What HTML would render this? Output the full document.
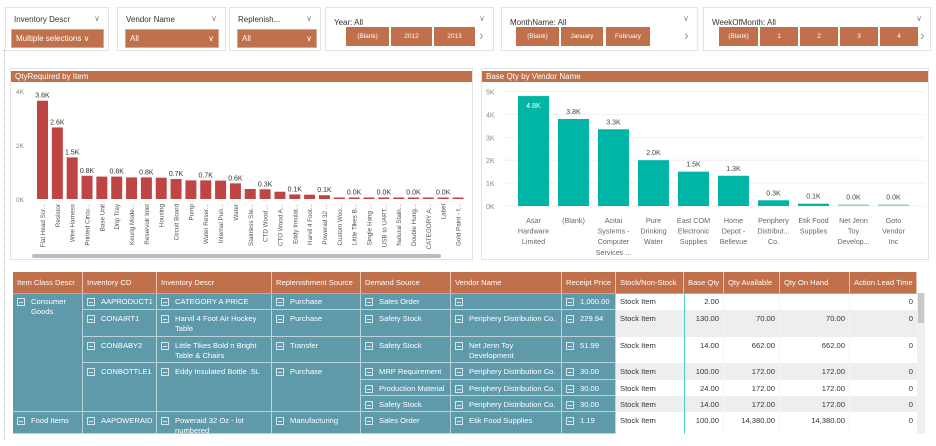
<!DOCTYPE html>
<html><head><meta charset="utf-8">
<style>
body{margin:0;width:936px;height:446px;background:#fff;position:relative;overflow:hidden;font-family:"Liberation Sans",sans-serif;}
.abs{position:absolute;box-sizing:border-box;}
.slicer{border:1px solid #e3e3e3;background:#fff;}
.sl-title{font-size:8px;color:#333;position:absolute;left:8px;top:7px;}
.sl-chev{position:absolute;right:8px;top:6px;font-size:8px;color:#888;}
.dd{background:#c0704a;color:#fff;font-size:8px;position:absolute;padding:4px 4px;box-sizing:border-box;border:1px solid #d9a58a;}
.btn{background:#c0704a;color:#fff;font-size:6.5px;position:absolute;text-align:center;line-height:19px;height:19px;top:27px;}
.arrow{position:absolute;font-size:14px;color:#999;top:27px;}
.cell{position:absolute;box-sizing:border-box;font-size:7.6px;padding:4px 3px 0 4px;line-height:10px;overflow:hidden;}
.teal{background:#5f9aab;color:#fff;border-right:1px solid #b9d2da;border-bottom:1px solid #b9d2da;}
.hdr{background:#c0704a;color:#fff;border-right:1px solid #e8c3ae;padding-top:6px;white-space:nowrap;}
.ico{display:inline-block;width:6px;height:6px;border:1px solid #d6e7ec;margin-right:6px;position:relative;vertical-align:-1px;}
.ico:after{content:"";position:absolute;left:1px;top:2.5px;width:4px;height:1px;background:#d6e7ec;}
.num{text-align:right;color:#333;padding-right:4px;}
</style></head><body>
<div class="abs" style="left:4px;top:50px;width:0;height:390px;border-left:1px dotted #bbb;"></div>

<!-- slicers -->
<div class="abs slicer" style="left:5px;top:7px;width:104px;height:44px;">
 <div class="sl-title">Inventory Descr</div><div class="sl-chev">∨</div>
 <div class="dd" style="left:5px;top:21px;width:93px;height:19px;">Multiple selections ∨</div>
</div>
<div class="abs slicer" style="left:117px;top:7px;width:109px;height:44px;">
 <div class="sl-title">Vendor Name</div><div class="sl-chev">∨</div>
 <div class="dd" style="left:7px;top:21px;width:94px;height:19px;">All<span style="float:right">∨</span></div>
</div>
<div class="abs slicer" style="left:229px;top:7px;width:92px;height:44px;">
 <div class="sl-title">Replenish...</div><div class="sl-chev">∨</div>
 <div class="dd" style="left:7px;top:21px;width:80px;height:19px;">All<span style="float:right">∨</span></div>
</div>
<div class="abs slicer" style="left:325px;top:7px;width:169px;height:44px;">
 <div class="sl-title" style="top:10px;">Year: All</div><div class="sl-chev">∨</div>
</div>
<div class="abs slicer" style="left:501px;top:7px;width:197px;height:44px;">
 <div class="sl-title" style="top:10px;">MonthName: All</div><div class="sl-chev">∨</div>
</div>
<div class="abs slicer" style="left:703px;top:7px;width:228px;height:44px;">
 <div class="sl-title" style="top:10px;">WeekOfMonth: All</div><div class="sl-chev">∨</div>
</div>
<div id="btns"></div>

<!-- left chart -->
<div class="abs" style="left:10px;top:68px;width:463px;height:192px;border:1px solid #e3e3e3;"></div>
<div class="abs" style="left:11px;top:71px;width:461px;height:11px;background:#c0704a;color:#fff;font-size:8px;line-height:11px;padding-left:4px;">QtyRequired by Item</div>
<svg class="abs" id="c1" style="left:0;top:0" width="480" height="262"></svg>

<!-- right chart -->
<div class="abs" style="left:481px;top:68px;width:448px;height:192px;border:1px solid #e3e3e3;"></div>
<div class="abs" style="left:482px;top:71px;width:446px;height:11px;background:#c0704a;color:#fff;font-size:8px;line-height:11px;padding-left:4px;">Base Qty by Vendor Name</div>
<svg class="abs" id="c2" style="left:0;top:0" width="936" height="262"></svg>

<!-- table -->
<div class="abs" style="left:917px;top:293px;width:8px;height:141px;background:#f0f0f0;"></div>
<div class="abs" style="left:918px;top:293px;width:6px;height:30px;background:#c8c8c8;"></div>
<div id="tbl"></div>

<script>
// ---- chart 1 data ----
const items=["Flat Head Scr...","Resistor","Wire Harness","Printed Circu...","Base Unit","Drip Tray","Keurig Mode...","Reservoir Inlet","Housing","Circuit Board","Pump","Water Reser...","Internal Puri...","Water","Stainless Ste...","CTD Wood ...","CTO Wood A...","Eddy Insulat...","Harvil 4 Foot...","Powerad 32 ...","Custom Woo...","Little Tikes B...","Single Hang ...","USB to UART...","Natural Stain...","Double Hung...","CATEGORY A...","Label","Gold Paint - f..."];
const qtyRequired=[3.64,2.65,1.54,0.86,0.83,0.83,0.8,0.8,0.79,0.74,0.69,0.69,0.68,0.58,0.37,0.36,0.27,0.17,0.16,0.14,0.02,0.02,0.02,0.02,0.02,0.02,0.02,0.02,0.02];
const qtyLabels=["3.6K","2.6K","1.5K","0.8K","","0.8K","","0.8K","","0.7K","","0.7K","","0.6K","","0.3K","","0.1K","","0.1K","","0.0K","","0.0K","","0.0K","","0.0K",""];
const ticks1=[0,2,4];
// ---- chart 2 data ----
const vendors=[["Asar","Hardware","Limited"],["(Blank)"],["Acitai","Systems -","Computer","Services ..."],["Pure","Drinking","Water"],["East COM","Electronic","Supplies"],["Home","Depot -","Bellevue"],["Periphery","Distribut...","Co."],["Etik Food","Supplies"],["Net Jenn","Toy","Develop..."],["Goto","Vendor","Inc"]];
const baseQty=[4.8,3.8,3.35,2.0,1.5,1.32,0.25,0.1,0.03,0.03];
const baseLabels=["4.8K","3.8K","3.3K","2.0K","1.5K","1.3K","0.3K","0.1K","0.0K","0.0K"];
const ticks2=[0,1,2,3,4,5];

const NS="http://www.w3.org/2000/svg";
function mk(svg,tag,attrs,txt){const e=document.createElementNS(NS,tag);for(const k in attrs)e.setAttribute(k,attrs[k]);if(txt!==undefined)e.textContent=txt;svg.appendChild(e);return e;}

// chart1
const s1=document.getElementById('c1');
const y1=v=>199-v*27, x1=i=>42.5+i*14.84;
ticks1.forEach(t=>{const e=mk(s1,'text',{x:16,y:y1(t)+3,'font-size':6.5,fill:'#888'},t+'K');

});
items.forEach((n,i)=>{
 const v=qtyRequired[i];const h=Math.max(1.5,v*27);
 const r=mk(s1,'rect',{x:x1(i)-5.5,y:199-h,width:11,height:h,fill:'#bf4545'});
 
 
 if(qtyLabels[i]){const t=mk(s1,'text',{x:x1(i)+(i<3?0:0),y:199-h-3,'font-size':7,fill:'#333','text-anchor':'middle'},qtyLabels[i]);
 
 }
 const l=mk(s1,'text',{transform:`translate(${x1(i)+2.5},204) rotate(-90)`,'font-size':6.3,fill:'#555','text-anchor':'end'},n);
 
 
});
const sb=mk(s1,'rect',{x:32,y:254,width:409,height:4,rx:2,fill:'#bdbdbd'});



// chart2
const s2=document.getElementById('c2');
const y2=v=>206-v*22.9, x2=i=>533.5+i*40;
ticks2.forEach(t=>{const g=mk(s2,'line',{x1:502,x2:925,y1:y2(t),y2:y2(t),stroke:'#eee','stroke-width':0.8});


const e=mk(s2,'text',{x:486,y:y2(t)+3,'font-size':7,fill:'#888'},t+'K');

});
vendors.forEach((lines,i)=>{
 const v=baseQty[i];const h=Math.max(1.5,v*22.9);
 const r=mk(s2,'rect',{x:x2(i)-15.5,y:206-h,width:31,height:h,fill:i>=8?'#7fd8cf':'#00b5a5'});
 
 
 const inside=i===0;
 const t=mk(s2,'text',{x:x2(i),y:inside?206-h+12:206-h-5,'font-size':7,fill:inside?'#fff':'#444','text-anchor':'middle'},baseLabels[i]);
 
 
 lines.forEach((ln,j)=>{const l=mk(s2,'text',{x:x2(i),y:223+j*10.6,'font-size':7.2,fill:'#666','text-anchor':'middle'},ln);
 
 });
});

// slicer buttons
const bw=document.getElementById('btns');
[[346,43,'(Blank)'],[391,41,'2012'],[434,41,'2013'],[516,43,'(Blank)'],[561,42,'January'],[606,44,'February'],[719,39,'(Blank)'],[760,38,'1'],[800,38,'2'],[840,38,'3'],[880,38,'4']].forEach(b=>{
 const d=document.createElement('div');d.className='btn';d.style.left=b[0]+'px';d.style.width=b[1]+'px';d.textContent=b[2];
 
 
 bw.appendChild(d);});
[479,684,920].forEach(x=>{const a=document.createElement('div');a.className='arrow';a.style.left=x+'px';a.textContent='›';
 
 
 bw.appendChild(a);});

// table
const T=document.getElementById('tbl');
const cx=[13,83,157,272,361,451,562,616,684,724,780,850,917];
const ry=[293,310,337,363,380,396,412,434];
const headers=["Item Class Descr","Inventory CD","Inventory Descr","Replenishment Source","Demand Source","Vendor Name","Receipt Price","Stock/Non-Stock","Base Qty","Qty Available","Qty On Hand","Action Lead Time"];
function cell(c0,c1,r0,r1,cls,html,name){const d=document.createElement('div');d.className='cell '+cls;
 d.style.left=cx[c0]+'px';d.style.width=(cx[c1]-cx[c0])+'px';d.style.top=r0+'px';d.style.height=(r1-r0)+'px';d.innerHTML=html;
 
 
 T.appendChild(d);return d;}
headers.forEach((h,i)=>cell(i,i+1,272,293,'hdr',h,'column-header'));
const teal=[
 [[0,6,'Consumer Goods'],[6,7,'Food Items']],
 [[0,1,'AAPRODUCT1'],[1,2,'CONAIRT1'],[2,3,'CONBABY2'],[3,6,'CONBOTTLE1'],[6,7,'AAPOWERAID']],
 [[0,1,'CATEGORY A PRICE'],[1,2,'Harvil 4 Foot Air Hockey Table'],[2,3,'Little Tikes Bold n Bright Table &amp; Chairs'],[3,6,'Eddy Insulated Bottle .5L'],[6,7,'Poweraid 32 Oz - lot numbered']],
 [[0,1,'Purchase'],[1,2,'Purchase'],[2,3,'Transfer'],[3,6,'Purchase'],[6,7,'Manufacturing']],
 [[0,1,'Sales Order'],[1,2,'Safety Stock'],[2,3,'Safety Stock'],[3,4,'MRP Requirement'],[4,5,'Production Material'],[5,6,'Safety Stock'],[6,7,'Sales Order']],
 [[0,1,''],[1,2,'Periphery Distribution Co.'],[2,3,'Net Jenn Toy Development'],[3,4,'Periphery Distribution Co.'],[4,5,'Periphery Distribution Co.'],[5,6,'Periphery Distribution Co.'],[6,7,'Etik Food Supplies']],
 [[0,1,'1,000.00'],[1,2,'229.94'],[2,3,'51.99'],[3,4,'30.00'],[4,5,'30.00'],[5,6,'30.00'],[6,7,'1.19']]
];
teal.forEach((col,c)=>col.forEach(s=>{
 const inner='<span style="display:flex"><span class="ico" style="flex:none;margin-top:1px"></span><span>'+s[2]+'</span></span>';
 cell(c,c+1,ry[s[0]],ry[s[1]],'teal',inner,'table-cell');}));
const right=[["2.00","","","0"],["130.00","70.00","70.00","0"],["14.00","662.00","662.00","0"],["100.00","172.00","172.00","0"],["24.00","172.00","172.00","0"],["14.00","172.00","172.00","0"],["100.00","14,380.00","14,380.00","0"]];
right.forEach((r,i)=>{
 const bg=i%2?'#eeeeee':'#ffffff';
 const st=cell(7,8,ry[i],ry[i+1],'','Stock Item','stock-cell');st.style.background=bg;st.style.color='#333';
 r.forEach((v,j)=>{const d=cell(8+j,9+j,ry[i],ry[i+1],'num',v,'table-cell');d.style.background=bg;
  if(j<3)d.style.borderRight='1px solid #f4f4f4';});
});
const sep=document.createElement('div');sep.className='abs';sep.style.cssText='left:684px;top:293px;width:1px;height:141px;background:#4fd6c6;';


T.appendChild(sep);
const hl=document.createElement('div');hl.className='abs';hl.style.cssText='left:13px;top:293px;width:904px;height:1px;background:#6fc9bd;';


T.appendChild(hl);
</script>
</body></html>
